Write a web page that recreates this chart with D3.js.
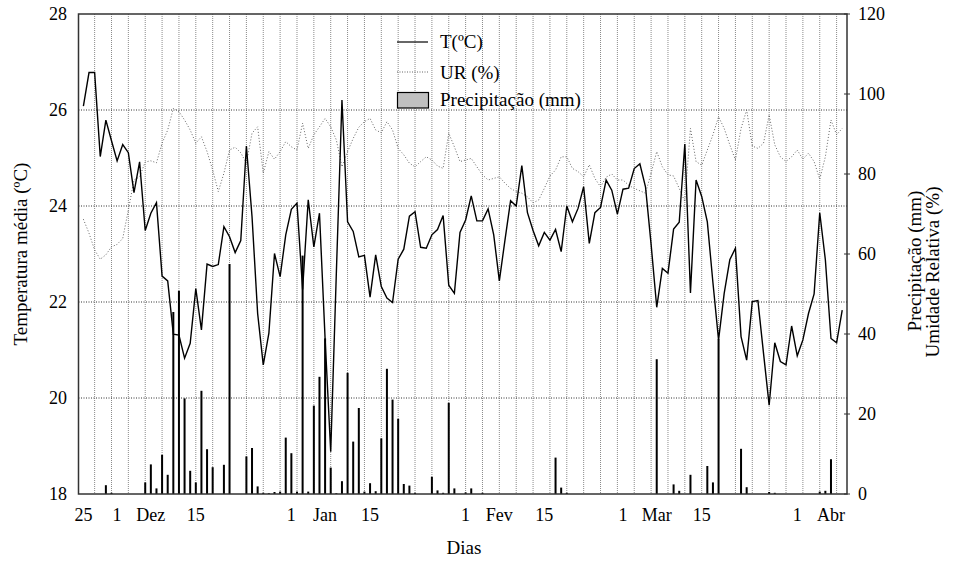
<!DOCTYPE html>
<html><head><meta charset="utf-8">
<script src="https://cdn.jsdelivr.net/npm/d3@7/dist/d3.min.js"></script>
<style>
body{margin:0;background:#fff}
text{font-family:"Liberation Serif","Times New Roman",serif;fill:#000}
</style>
</head><body>
<svg id="chart" width="963" height="563"></svg>
<script>
// ---------- DATA ----------
const startDate = "2008-11-25"; // first day of series (d = 0)
const temperature = [
26.08,26.78,26.78,25.03,25.79,25.36,24.94,25.28,25.11,24.28,
24.92,23.49,23.85,24.07,22.54,22.44,21.33,21.31,20.83,21.14,
22.28,21.42,22.79,22.74,22.78,23.57,23.36,23.03,23.28,25.25,
23.78,21.76,20.69,21.35,23.01,22.53,23.40,23.93,24.06,22.26,
24.13,23.15,23.85,21.24,18.88,22.60,26.21,23.67,23.47,22.94,
22.97,22.10,22.98,22.32,22.08,21.99,22.89,23.10,23.79,23.88,
23.14,23.12,23.40,23.51,23.80,22.35,22.18,23.45,23.71,24.21,
23.69,23.69,23.94,23.40,22.44,23.29,24.11,24.00,24.84,23.86,
23.49,23.17,23.45,23.29,23.51,23.05,24.00,23.67,23.95,24.40,
23.22,23.86,23.97,24.54,24.33,23.83,24.35,24.37,24.78,24.88,
24.40,23.20,21.89,22.70,22.60,23.52,23.66,25.29,22.19,24.54,
24.20,23.67,22.40,21.21,22.18,22.88,23.12,21.28,20.79,22.01,
22.03,20.93,19.85,21.15,20.76,20.69,21.50,20.88,21.21,21.76,
22.17,23.86,22.88,21.24,21.15,21.83];
const humidity = [
68.7,65.2,61.0,58.7,59.8,61.8,62.4,63.9,71.0,78.5,
79.3,83.0,83.3,82.8,87.7,91.0,96.4,95.6,93.5,91.0,
87.7,89.3,85.6,81.0,75.6,80.2,86.0,86.7,85.3,82.7,
90.2,91.8,80.2,85.6,83.7,85.6,88.1,86.8,86.0,92.7,
86.4,89.8,91.8,93.9,91.8,88.5,81.8,85.6,88.9,91.7,
93.1,93.9,91.0,90.3,93.1,91.0,86.4,84.8,82.7,81.8,
83.1,84.3,83.5,82.0,81.4,90.2,86.8,83.1,83.5,83.9,
81.8,79.8,78.5,78.9,79.3,77.7,76.4,75.6,75.2,74.3,
72.8,73.5,76.4,79.5,81.0,84.3,84.3,81.4,80.6,79.3,
82.3,78.9,76.8,79.2,80.0,78.5,78.5,77.2,76.4,75.8,
75.2,80.2,85.6,81.8,79.8,79.5,76.4,73.1,91.4,83.1,
82.2,86.0,89.8,94.3,91.4,87.3,83.5,91.4,96.0,87.0,
86.4,87.7,94.8,87.3,84.3,83.1,84.3,86.0,83.7,85.2,
83.1,78.7,84.3,93.5,89.8,91.4];
const precipitation = [
0,0,0,0,2.2,0.3,0,0,0,0,
0,2.9,7.4,1.4,9.8,4.8,45.5,50.8,23.9,5.8,
2.9,25.8,11.2,6.7,0,7.3,57.5,0,0,9.4,
11.5,1.9,0.3,0.2,0.5,0.6,14.1,10.2,0.6,59.6,
0.6,22.1,29.3,38.9,6.6,0.2,3.2,30.3,13.1,21.5,
0.6,2.7,0.7,13.9,31.3,23.6,18.8,2.5,2.1,0.3,
0,0,4.3,0.9,0.3,22.8,1.4,0,0.4,1.4,
0,0.3,0,0,0,0,0,0,0,0,
0,0,0,0,9.1,1.6,0.3,0,0,0,
0,0,0,0,0,0,0,0,0,0,
0,0,33.7,0,0,2.4,0.8,0,4.8,0,
0,7.0,2.9,38.7,0,0,0,11.3,1.7,0,
0,0,0.5,0.3,0,0,0,0,0,0,
0,0.6,0.8,8.7,0,0];
const tempTicks = [18,20,22,24,26,28];
const rightTicks = [0,20,40,60,80,100,120];
const dayTickDates  = ["2008-11-25","2008-12-01","2008-12-07","2008-12-15","2009-01-01","2009-01-07","2009-01-15","2009-02-01","2009-02-07","2009-02-15","2009-03-01","2009-03-07","2009-03-15","2009-04-01","2009-04-07"];
const dayTickLabels = ["25","1","Dez","15","1","Jan","15","1","Fev","15","1","Mar","15","1","Abr"];
const legendLabels = ["T(ºC)","UR (%)","Precipitação (mm)"];

// ---------- LAYOUT ----------
const L = 78.5, R = 847, T = 14, B = 494;
const DAY = 864e5;
const t0 = new Date(startDate + "T00:00:00Z");
const dayDate = i => new Date(t0.getTime() + i * DAY);
const svg = d3.select("#chart");

const x = d3.scaleUtc()
  .domain([new Date(t0.getTime() - 0.87 * DAY), new Date(t0.getTime() + 135.85 * DAY)])
  .range([L, R]);
const yT = d3.scaleLinear().domain([18, 28]).range([B, T]);
const yR = d3.scaleLinear().domain([0, 120]).range([B, T]);

// vertical grid (every 3 days)
const gridDays = d3.range(2, 135, 3).map(dayDate);
svg.append("g").selectAll("line").data(gridDays).join("line")
  .attr("x1", d => x(d)).attr("x2", d => x(d))
  .attr("y1", T).attr("y2", B)
  .attr("stroke", "#8a8a8a").attr("stroke-width", 1).attr("stroke-dasharray", "1,1");

// horizontal grid
svg.append("g").selectAll("line").data(tempTicks.slice(1, -1)).join("line")
  .attr("x1", L).attr("x2", R)
  .attr("y1", d => yT(d)).attr("y2", d => yT(d))
  .attr("stroke", "#333").attr("stroke-width", 1).attr("stroke-dasharray", "1,1.5");

// precipitation bars
svg.append("g").selectAll("rect").data(precipitation.map((v, i) => ({v, d: dayDate(i)})).filter(p => p.v > 0))
  .join("rect")
  .attr("x", p => x(p.d) - 1).attr("width", 2)
  .attr("y", p => yR(p.v)).attr("height", p => B - yR(p.v))
  .attr("fill", "#000");

// humidity dotted
svg.append("path").datum(humidity)
  .attr("fill", "none").attr("stroke", "#666").attr("stroke-width", 1)
  .attr("stroke-dasharray", "1,2")
  .attr("d", d3.line().x((v, i) => x(dayDate(i))).y(v => yR(v)));

// temperature line
svg.append("path").datum(temperature)
  .attr("fill", "none").attr("stroke", "#000").attr("stroke-width", 1.4)
  .attr("stroke-linejoin", "miter")
  .attr("d", d3.line().x((v, i) => x(dayDate(i))).y(v => yT(v)));

// frame
svg.append("rect").attr("x", L).attr("y", T).attr("width", R - L).attr("height", B - T)
  .attr("fill", "none").attr("stroke", "#333").attr("stroke-width", 1.5);

// left axis labels
svg.append("g").selectAll("text").data(tempTicks).join("text")
  .attr("x", 67).attr("y", d => yT(d) + 6)
  .attr("text-anchor", "end").attr("font-size", 18).text(d => d);

// right axis ticks + labels
svg.append("g").selectAll("line").data(rightTicks).join("line")
  .attr("x1", R - 3).attr("x2", R + 3)
  .attr("y1", d => yR(d)).attr("y2", d => yR(d))
  .attr("stroke", "#333").attr("stroke-width", 1);
svg.append("g").selectAll("text").data(rightTicks).join("text")
  .attr("x", 858).attr("y", d => yR(d) + 6)
  .attr("text-anchor", "start").attr("font-size", 18).text(d => d);

// bottom labels
svg.append("g").selectAll("text").data(dayTickDates).join("text")
  .attr("x", d => x(new Date(d + "T00:00:00Z"))).attr("y", 521)
  .attr("text-anchor", "middle").attr("font-size", 18)
  .text((d, i) => dayTickLabels[i]);

// axis titles
svg.append("text").attr("x", 464).attr("y", 554).attr("text-anchor", "middle")
  .attr("font-size", 19).text("Dias");
svg.append("text").attr("transform", "translate(27,254) rotate(-90)")
  .attr("text-anchor", "middle").attr("font-size", 19).text("Temperatura média (ºC)");
svg.append("text").attr("transform", "translate(921,261) rotate(-90)")
  .attr("text-anchor", "middle").attr("font-size", 19).text("Precipitação (mm)");
svg.append("text").attr("transform", "translate(939,272) rotate(-90)")
  .attr("text-anchor", "middle").attr("font-size", 19).text("Umidade Relativa (%)");

// legend (no background: grid shows through, as in the reference)
const lg = svg.append("g");
lg.append("line").attr("x1", 397).attr("x2", 428).attr("y1", 42).attr("y2", 42)
  .attr("stroke", "#000").attr("stroke-width", 1.2);
lg.append("line").attr("x1", 397).attr("x2", 428).attr("y1", 72).attr("y2", 72)
  .attr("stroke", "#666").attr("stroke-width", 1).attr("stroke-dasharray", "1,1.5");
lg.append("rect").attr("x", 397.5).attr("y", 92.5).attr("width", 31).attr("height", 15.5)
  .attr("fill", "#c0c0c0").attr("stroke", "#000").attr("stroke-width", 1.2);
lg.selectAll("text.leg").data(legendLabels).join("text").attr("class", "leg")
  .attr("x", 440).attr("y", (d, i) => [48, 79, 106][i])
  .attr("font-size", 19).text(d => d);
</script>
</body></html>
